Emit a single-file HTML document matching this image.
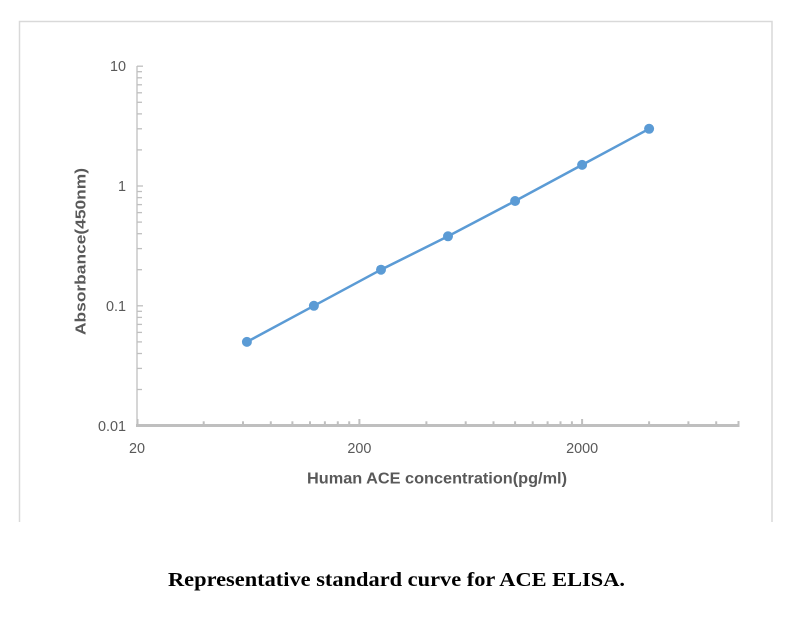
<!DOCTYPE html>
<html><head><meta charset="utf-8"><style>
html,body{margin:0;padding:0;background:#fff;}
svg{display:block;}
</style></head><body>
<svg width="793" height="639" viewBox="0 0 793 639" xmlns="http://www.w3.org/2000/svg">
<rect width="793" height="639" fill="#fff"/>
<!-- frame -->
<path d="M19.5 522 V21.5 H772 V522" fill="none" stroke="#d9d9d9" stroke-width="1.5"/>
<!-- y axis -->
<g stroke="#bfbfbf" stroke-width="1.3" fill="none">
<line x1="137" y1="66" x2="137" y2="426"/>
<line x1="137" y1="66.2" x2="143" y2="66.2"/>
<line x1="137" y1="186" x2="143" y2="186"/>
<line x1="137" y1="305.8" x2="143" y2="305.8"/>
<g>
<line x1="137" y1="71.7" x2="142" y2="71.7"/><line x1="137" y1="77.8" x2="142" y2="77.8"/><line x1="137" y1="84.8" x2="142" y2="84.8"/><line x1="137" y1="92.8" x2="142" y2="92.8"/><line x1="137" y1="102.3" x2="142" y2="102.3"/><line x1="137" y1="113.9" x2="142" y2="113.9"/><line x1="137" y1="128.8" x2="142" y2="128.8"/><line x1="137" y1="149.9" x2="142" y2="149.9"/>
<line x1="137" y1="191.5" x2="142" y2="191.5"/><line x1="137" y1="197.6" x2="142" y2="197.6"/><line x1="137" y1="204.6" x2="142" y2="204.6"/><line x1="137" y1="212.6" x2="142" y2="212.6"/><line x1="137" y1="222.1" x2="142" y2="222.1"/><line x1="137" y1="233.7" x2="142" y2="233.7"/><line x1="137" y1="248.6" x2="142" y2="248.6"/><line x1="137" y1="269.7" x2="142" y2="269.7"/>
<line x1="137" y1="311.3" x2="142" y2="311.3"/><line x1="137" y1="317.4" x2="142" y2="317.4"/><line x1="137" y1="324.4" x2="142" y2="324.4"/><line x1="137" y1="332.4" x2="142" y2="332.4"/><line x1="137" y1="341.9" x2="142" y2="341.9"/><line x1="137" y1="353.5" x2="142" y2="353.5"/><line x1="137" y1="368.4" x2="142" y2="368.4"/><line x1="137" y1="389.5" x2="142" y2="389.5"/>
</g>
</g>
<!-- x axis -->
<line x1="136" y1="425.5" x2="739.5" y2="425.5" stroke="#bfbfbf" stroke-width="3"/>
<g stroke="#bfbfbf" stroke-width="2">
<line x1="137.5" y1="419" x2="137.5" y2="425"/>
<line x1="359.4" y1="419" x2="359.4" y2="425"/>
<line x1="582.1" y1="419" x2="582.1" y2="425"/>
<line x1="738.5" y1="421" x2="738.5" y2="425"/>
<line x1="203.7" y1="421.3" x2="203.7" y2="425"/><line x1="243" y1="421.3" x2="243" y2="425"/><line x1="270.8" y1="421.3" x2="270.8" y2="425"/><line x1="292.4" y1="421.3" x2="292.4" y2="425"/><line x1="310" y1="421.3" x2="310" y2="425"/><line x1="324.9" y1="421.3" x2="324.9" y2="425"/><line x1="337.8" y1="421.3" x2="337.8" y2="425"/><line x1="349.2" y1="421.3" x2="349.2" y2="425"/>
<line x1="426.4" y1="421.3" x2="426.4" y2="425"/><line x1="465.7" y1="421.3" x2="465.7" y2="425"/><line x1="493.5" y1="421.3" x2="493.5" y2="425"/><line x1="515.1" y1="421.3" x2="515.1" y2="425"/><line x1="532.7" y1="421.3" x2="532.7" y2="425"/><line x1="547.6" y1="421.3" x2="547.6" y2="425"/><line x1="560.5" y1="421.3" x2="560.5" y2="425"/><line x1="571.9" y1="421.3" x2="571.9" y2="425"/>
<line x1="649.1" y1="421.3" x2="649.1" y2="425"/><line x1="688.4" y1="421.3" x2="688.4" y2="425"/><line x1="716.2" y1="421.3" x2="716.2" y2="425"/>
</g>
<!-- tick labels -->
<g font-family="Liberation Sans, sans-serif" font-size="14.4" fill="#595959">
<text x="126" y="71.2" text-anchor="end">10</text>
<text x="126" y="191.2" text-anchor="end">1</text>
<text x="126" y="311" text-anchor="end">0.1</text>
<text x="126" y="430.8" text-anchor="end">0.01</text>
<text x="137" y="453" text-anchor="middle">20</text>
<text x="359.4" y="453" text-anchor="middle">200</text>
<text x="582.1" y="453" text-anchor="middle">2000</text>
</g>
<!-- axis titles -->
<text x="437" y="483.3" text-anchor="middle" font-family="Liberation Sans, sans-serif" font-weight="bold" font-size="15.5" fill="#595959" textLength="260" lengthAdjust="spacingAndGlyphs">Human ACE concentration(pg/ml)</text>
<text transform="translate(85.5,251.5) rotate(-90)" x="0" y="0" text-anchor="middle" font-family="Liberation Sans, sans-serif" font-weight="bold" font-size="15" fill="#595959" textLength="167" lengthAdjust="spacingAndGlyphs">Absorbance(450nm)</text>
<!-- series -->
<polyline points="246.9,341.9 313.9,305.8 381,269.7 448,236.3 515.1,201 582.1,164.9 649.1,128.8" fill="none" stroke="#5b9bd5" stroke-width="2.5" stroke-linejoin="round"/>
<g fill="#5b9bd5">
<circle cx="246.9" cy="341.9" r="5"/>
<circle cx="313.9" cy="305.8" r="5"/>
<circle cx="381" cy="269.7" r="5"/>
<circle cx="448" cy="236.3" r="5"/>
<circle cx="515.1" cy="201" r="5"/>
<circle cx="582.1" cy="164.9" r="5"/>
<circle cx="649.1" cy="128.8" r="5"/>
</g>
<!-- caption -->
<text x="396.5" y="586" text-anchor="middle" font-family="Liberation Serif, serif" font-weight="bold" font-size="20.5" fill="#000" textLength="457" lengthAdjust="spacingAndGlyphs">Representative standard curve for ACE ELISA.</text>
</svg>
</body></html>
